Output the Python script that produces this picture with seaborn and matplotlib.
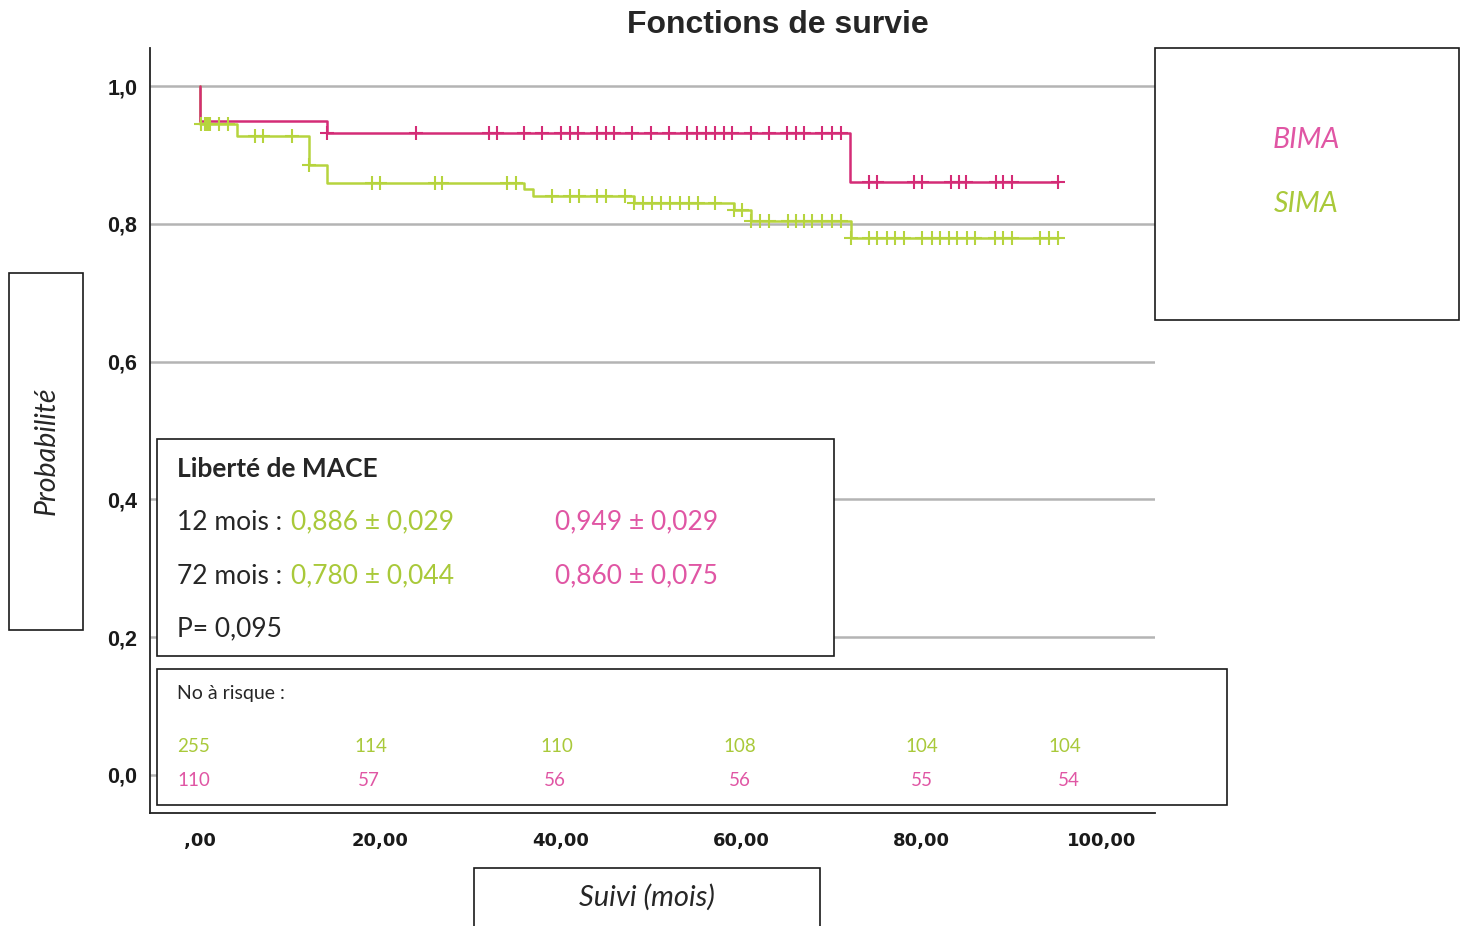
import numpy as np
import seaborn as sns
import matplotlib.pyplot as plt
from matplotlib.patches import Rectangle

# step curves (Kaplan-Meier), time in months
bima_times = [0, 0, 14.1, 72.1, 95.2]
bima_surv = [1.0, 0.949, 0.932, 0.861, 0.861]
sima_times = [0, 0, 4.1, 12.1, 14.1, 36.0, 37.0, 48.1, 59.2, 61.1, 72.2, 95.1]
sima_surv = [1.0, 0.945, 0.928, 0.886, 0.859, 0.851, 0.841, 0.831, 0.820, 0.804, 0.780, 0.780]

# censored observations
bima_cens = [14.1, 24.0, 32.1, 33.0, 36.0, 38.0, 40.1, 41.0, 41.9, 44.1, 45.1, 45.9,
             47.9, 50.0, 52.0, 54.0, 55.1, 56.1, 57.1, 58.1, 59.0, 61.1, 63.1, 65.1,
             66.1, 67.0, 69.0, 70.1, 71.1, 74.2, 75.1, 79.2, 80.1, 83.3, 84.2, 85.0,
             88.3, 89.1, 90.0, 95.2]
sima_cens = [0.2, 0.6, 0.8, 1.0, 1.2, 2.1, 3.2, 6.1, 7.0, 10.2, 12.1, 19.1, 20.0,
             26.1, 26.9, 34.1, 35.1, 39.1, 41.0, 42.1, 44.1, 45.0, 47.1, 48.1, 49.1,
             50.1, 51.1, 52.1, 53.2, 54.2, 55.2, 57.1, 59.2, 60.1, 61.1, 62.1, 63.1,
             65.2, 66.1, 67.0, 67.9, 69.0, 70.1, 71.1, 72.2, 74.2, 75.1, 76.2, 77.1,
             78.1, 80.1, 81.2, 82.1, 83.1, 84.0, 85.1, 86.0, 88.2, 89.1, 90.1, 93.2,
             94.1, 95.1]

x_ticks = [0, 20, 40, 60, 80, 100]
x_labels = [',00', '20,00', '40,00', '60,00', '80,00', '100,00']
y_ticks = [0.0, 0.2, 0.4, 0.6, 0.8, 1.0]
y_labels = ['0,0', '0,2', '0,4', '0,6', '0,8', '1,0']

groups = ['BIMA', 'SIMA']
stats_rows = ['12 mois : ', '72 mois : ']
sima_stats = ['0,886 ± 0,029', '0,780 ± 0,044']
bima_stats = ['0,949 ± 0,029', '0,860 ± 0,075']
p_value = 'P= 0,095'
sima_risk = ['255', '114', '110', '108', '104', '104']
bima_risk = ['110', '57', '56', '56', '55', '54']

PINK_LINE = '#d42c76'
GREEN_LINE = '#b6d43e'
PINK_TXT = '#e056a4'
GREEN_TXT = '#a9c93a'

W, H = 1466, 926


def fx(px):
    return px / W


def fy(py):
    return 1 - py / H


def surv_at(times, surv, t):
    idx = np.searchsorted(np.array(times), t, side='right') - 1
    return np.array(surv)[idx]


sns.set_style('white')
plt.rcParams['font.family'] = ['Lato', 'DejaVu Sans']

fig = plt.figure(figsize=(W / 100, H / 100), dpi=100)
ax = fig.add_axes([fx(150), fy(813), fx(1155) - fx(150), fy(48) - fy(813)])

sns.lineplot(x=sima_times, y=sima_surv, drawstyle='steps-post', estimator=None,
             sort=False, color=GREEN_LINE, lw=1.8, ax=ax)
sns.lineplot(x=bima_times, y=bima_surv, drawstyle='steps-post', estimator=None,
             sort=False, color=PINK_LINE, lw=1.8, ax=ax)
sns.scatterplot(x=sima_cens, y=surv_at(sima_times, sima_surv, sima_cens),
                marker='+', s=110, linewidth=1.5, color=GREEN_LINE, ax=ax, zorder=3)
sns.scatterplot(x=bima_cens, y=surv_at(bima_times, bima_surv, bima_cens),
                marker='+', s=110, linewidth=1.5, color=PINK_LINE, ax=ax, zorder=3)

ax.set_xlim(-5.5, 105.9)
ax.set_ylim(-0.0556, 1.0555)
ax.set_xticks(x_ticks)
ax.set_xticklabels(x_labels, family='DejaVu Sans', fontweight='bold',
                   fontsize=13, color='#1a1a1a')
ax.set_yticks(y_ticks)
ax.set_yticklabels(y_labels, family='Liberation Sans', fontweight='bold',
                   fontsize=15.5, color='#1a1a1a')
ax.tick_params(axis='x', length=0, pad=14)
ax.tick_params(axis='y', length=0, pad=9)
ax.yaxis.grid(True, color='#b4b4b4', lw=1.8)
ax.set_axisbelow(True)
for s in ['top', 'right']:
    ax.spines[s].set_visible(False)
for s in ['left', 'bottom']:
    ax.spines[s].set_color('#222222')
    ax.spines[s].set_linewidth(1.3)
ax.set_xlabel('')
ax.set_ylabel('')

fig.text(fx(778), fy(25), 'Fonctions de survie', family='Liberation Sans',
         fontweight='bold', fontsize=23, ha='center', va='center')


def box(x0, y0, x1, y1):
    fig.patches.append(Rectangle((fx(x0), fy(y1)), fx(x1) - fx(x0), fy(y0) - fy(y1),
                                 transform=fig.transFigure, facecolor='white',
                                 edgecolor='#1a1a1a', lw=1.2, zorder=2))


# legend box
box(1155, 48, 1459, 320)
fig.text(fx(1306), fy(140), groups[0], color=PINK_TXT, style='italic', fontsize=20.5,
         ha='center', va='center', zorder=3)
fig.text(fx(1306), fy(204), groups[1], color=GREEN_TXT, style='italic', fontsize=20.5,
         ha='center', va='center', zorder=3)

# y label box
box(9, 273, 83, 630)
fig.text(fx(47), fy(451), 'Probabilité', style='italic', fontsize=20.5, rotation=90,
         ha='center', va='center', zorder=3)

# x label box
box(474, 868, 820, 940)
fig.text(fx(647), fy(897), 'Suivi (mois)', style='italic', fontsize=21,
         ha='center', va='center', zorder=3)

# stats box
box(157, 439, 834, 656)
fig.text(fx(177), fy(469), 'Liberté de MACE', fontweight='bold', fontsize=19,
         ha='left', va='center', zorder=3)
for i, lab in enumerate(stats_rows):
    yy = fy(522 + 54 * i)
    fig.text(fx(177), yy, lab, fontsize=19, ha='left', va='center', zorder=3)
    fig.text(fx(291), yy, sima_stats[i], color=GREEN_TXT, fontsize=19,
             ha='left', va='center', zorder=3)
    fig.text(fx(555), yy, bima_stats[i], color=PINK_TXT, fontsize=19,
             ha='left', va='center', zorder=3)
fig.text(fx(177), fy(629), p_value, fontsize=19, ha='left', va='center', zorder=3)

# number at risk box
box(157, 669, 1227, 805)
fig.text(fx(177), fy(693), 'No à risque :', fontsize=14, ha='left', va='center', zorder=3)
green_cols = [177, 354, 540, 723, 905, 1048]
pink_cols = [177, 358, 544, 729, 911, 1058]
for i in range(len(sima_risk)):
    fig.text(fx(green_cols[i]), fy(747), sima_risk[i], color=GREEN_TXT, fontsize=13.5,
             ha='left', va='center', zorder=3)
    fig.text(fx(pink_cols[i]), fy(780), bima_risk[i], color=PINK_TXT, fontsize=13.5,
             ha='left', va='center', zorder=3)

fig.savefig('out.png', dpi=100)
